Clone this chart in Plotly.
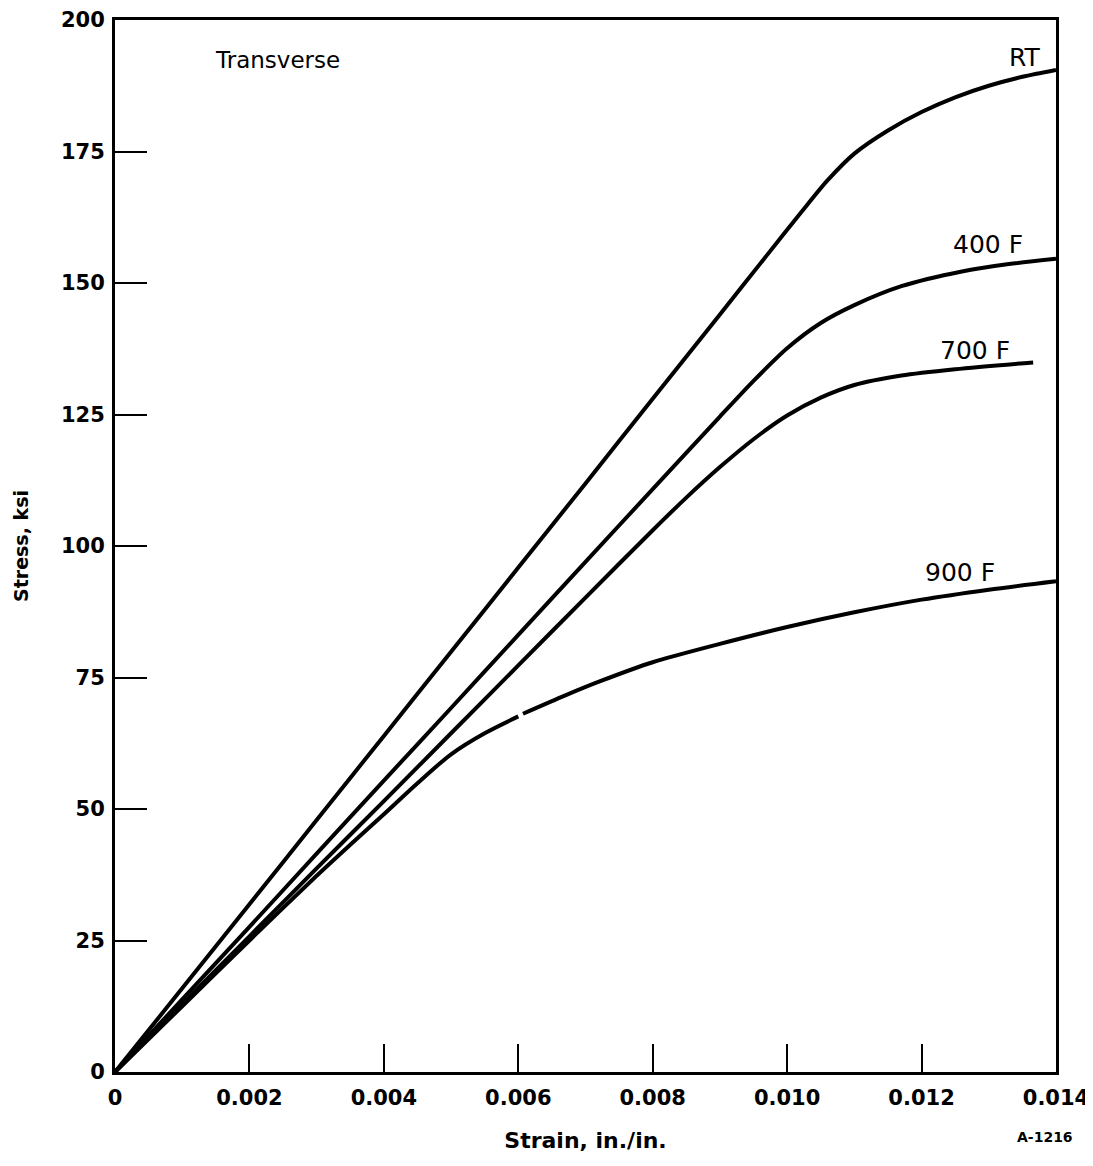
import plotly.graph_objects as go

# Strain (in./in.) and stress (ksi)
rt_strain = [0, 0.001, 0.002, 0.003, 0.004, 0.005, 0.006, 0.007, 0.008, 0.009, 0.0097, 0.0102,
             0.0106, 0.0110, 0.0115, 0.0120, 0.0125, 0.0130, 0.0135, 0.0140]
rt_stress = [0, 15.9, 31.9, 47.9, 63.9, 79.9, 95.9, 111.9, 128.0, 144.0, 155.3, 163.3,
             169.5, 174.6, 179.0, 182.5, 185.3, 187.5, 189.2, 190.5]

f400_strain = [0, 0.001, 0.002, 0.003, 0.004, 0.005, 0.006, 0.007, 0.008, 0.009, 0.0095, 0.0100,
               0.0105, 0.0110, 0.0117, 0.0126, 0.0133, 0.0140]
f400_stress = [0, 13.8, 27.6, 41.5, 55.4, 69.2, 83.1, 97.0, 110.8, 124.6, 131.4, 137.6,
               142.4, 145.8, 149.4, 152.2, 153.6, 154.6]

f700_strain = [0, 0.001, 0.002, 0.003, 0.004, 0.005, 0.006, 0.007, 0.008, 0.0085, 0.0090, 0.0095,
               0.0100, 0.0105, 0.0110, 0.0117, 0.0125, 0.01366]
f700_stress = [0, 12.9, 25.8, 38.7, 51.5, 64.4, 77.3, 90.2, 103.0, 109.2, 115.0, 120.3,
               124.8, 128.2, 130.6, 132.4, 133.6, 134.9]

f900_strain = [0, 0.001, 0.002, 0.003, 0.0035, 0.004, 0.0045, 0.005, 0.0055, 0.0060, 0.00603,
               0.00607, 0.0067, 0.0072, 0.0080, 0.0090, 0.0100, 0.0110, 0.0120, 0.0130, 0.0140]
f900_stress = [0, 12.5, 25.0, 37.3, 43.2, 49.0, 54.9, 60.4, 64.4, 67.6, None,
               68.1, 71.6, 74.2, 77.9, 81.4, 84.6, 87.4, 89.8, 91.7, 93.3]

x_tickvals = [0, 0.002, 0.004, 0.006, 0.008, 0.010, 0.012, 0.014]
x_ticktext = ["0", "0.002", "0.004", "0.006", "0.008", "0.010", "0.012", "0.014"]
y_tickvals = [0, 25, 50, 75, 100, 125, 150, 175, 200]
y_ticktext = ["0", "25", "50", "75", "100", "125", "150", "175", "200"]

curve_labels = ["RT", "400 F", "700 F", "900 F"]
label_x = [0.01354, 0.01299, 0.01279, 0.01257]
label_y = [192.8, 157.4, 137.1, 94.9]

FONT = "DejaVu Sans"

fig = go.Figure()
for sx, sy, name in [(rt_strain, rt_stress, "RT"), (f400_strain, f400_stress, "400 F"),
                     (f700_strain, f700_stress, "700 F"), (f900_strain, f900_stress, "900 F")]:
    fig.add_trace(go.Scatter(x=sx, y=sy, mode="lines", name=name,
                             line=dict(color="black", width=4, shape="spline", smoothing=0.8),
                             connectgaps=False, showlegend=False))

for t, lx, ly in zip(curve_labels, label_x, label_y):
    fig.add_annotation(x=lx, y=ly, text=t, showarrow=False,
                       font=dict(family=FONT, size=25, color="black"))

fig.add_annotation(x=0.002425, y=192.4, text="Transverse", showarrow=False,
                   font=dict(family=FONT, size=23, color="black"))
fig.add_annotation(x=0.988, y=-0.062, xref="paper", yref="paper", text="A-1216", showarrow=False,
                   xanchor="center", yanchor="middle",
                   font=dict(family=FONT, size=14, color="black", weight="bold"))

axis_common = dict(showgrid=False, zeroline=False, showline=True, linecolor="black", linewidth=3,
                   mirror=True, ticks="inside", tickcolor="black", tickwidth=2, automargin=False,
                   ticklabeloverflow="allow",
                   tickfont=dict(family=FONT, size=21, color="black", weight="bold"))

fig.update_xaxes(range=[0, 0.014], tickvals=x_tickvals, ticktext=x_ticktext, ticklen=28,
                 ticklabelstandoff=5,
                 title=dict(text="Strain, in./in.", standoff=24,
                            font=dict(family=FONT, size=22, color="black", weight="bold")),
                 **axis_common)
fig.update_yaxes(range=[0, 200], tickvals=y_tickvals, ticktext=y_ticktext, ticklen=32,
                 ticklabelstandoff=3,
                 title=dict(text="Stress, ksi", standoff=28,
                            font=dict(family=FONT, size=19, color="black", weight="bold")),
                 **axis_common)

# page body adds an 8px margin at left/top; size chosen so the plot box lands where the reference's does
fig.update_layout(width=1085, height=1150, margin=dict(l=107, r=37, t=12, b=86),
                  plot_bgcolor="white", paper_bgcolor="white")

fig.write_html("out.html")
